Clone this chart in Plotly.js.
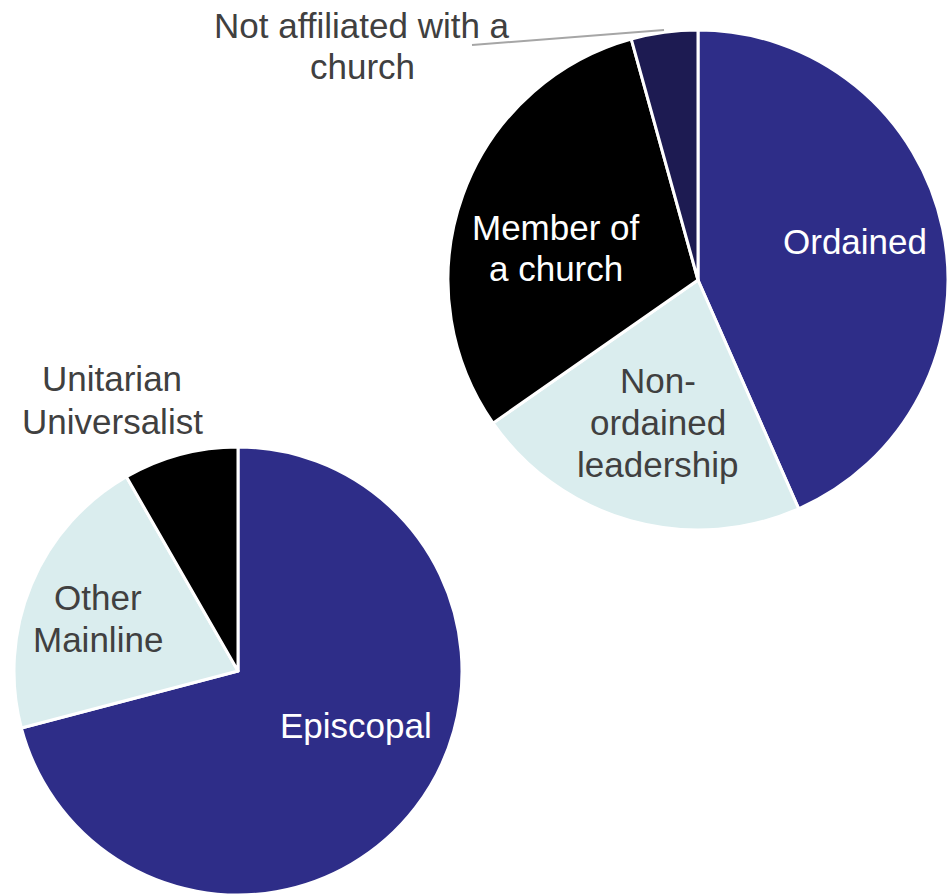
<!DOCTYPE html>
<html>
<head>
<meta charset="utf-8">
<script src="https://cdn.plot.ly/plotly-3.0.1.min.js"></script>
<style>html,body{margin:0;padding:0;background:#fff;}</style>
</head>
<body>
<div id="chart" style="width:949px;height:895px;"></div>
<script>
// Top pie: role in church
const roleLabels = ["Ordained", "Non-ordained leadership", "Member of a church", "Not affiliated with a church"];
const roleValues = [43.4, 21.9, 30.4, 4.3];
const roleColors = ["#2E2D88", "#DAEDEE", "#000000", "#1D1B52"];
const roleText = [["Ordained"], ["Non-", "ordained", "leadership"], ["Member of", "a church"], ["Not affiliated with a", "church"]];

// Bottom pie: denomination
const denomLabels = ["Episcopal", "Other Mainline", "Unitarian Universalist"];
const denomValues = [70.9, 20.8, 8.3];
const denomColors = ["#2E2D88", "#DAEDEE", "#000000"];
const denomText = [["Episcopal"], ["Other", "Mainline"], ["Unitarian", "Universalist"]];

const W = 949, H = 895;
const px = x => x / W;
const py = y => 1 - y / H;

const traces = [
  {
    type: "pie", labels: roleLabels, values: roleValues, sort: false,
    direction: "clockwise", rotation: 0, textinfo: "none", hoverinfo: "label+percent",
    marker: {colors: roleColors, line: {color: "#FFFFFF", width: 3}},
    domain: {x: [px(448), px(948)], y: [py(530), py(30)]}
  },
  {
    type: "pie", labels: denomLabels, values: denomValues, sort: false,
    direction: "clockwise", rotation: 0, textinfo: "none", hoverinfo: "label+percent",
    marker: {colors: denomColors, line: {color: "#FFFFFF", width: 3}},
    domain: {x: [px(13), px(463)], y: [0, py(447)]}
  }
];

const FS = 35;
const LH = 42;
const fontFam = "Liberation Sans, Arial, sans-serif";
const annotations = [];
function ann(lines, x, y, color) {
  lines.forEach((t, i) => {
    const yy = y + (i - (lines.length - 1) / 2) * LH;
    annotations.push({text: t, xref: "paper", yref: "paper", x: px(x), y: py(yy),
      xanchor: "center", yanchor: "middle", showarrow: false, align: "center",
      font: {family: fontFam, size: FS, color: color}});
  });
}
ann(roleText[0], 855, 241, "#FFFFFF");
ann(roleText[1], 658, 422, "#404040");
ann(roleText[2], 556, 248, "#FFFFFF");
ann(roleText[3], 362, 46, "#404040");
ann(denomText[0], 356, 725, "#FFFFFF");
ann(denomText[1], 98, 618, "#404040");
ann(denomText[2], 112, 400, "#404040");

const layout = {
  width: W, height: H,
  margin: {l: 0, r: 0, t: 0, b: 0},
  paper_bgcolor: "#FFFFFF", plot_bgcolor: "#FFFFFF",
  showlegend: false,
  annotations: annotations,
  shapes: [{type: "line", xref: "paper", yref: "paper",
    x0: px(472), y0: py(45), x1: px(664), y1: py(30),
    line: {color: "#A6A6A6", width: 2}}]
};

Plotly.newPlot("chart", traces, layout, {displayModeBar: false, staticPlot: true});
</script>
</body>
</html>
